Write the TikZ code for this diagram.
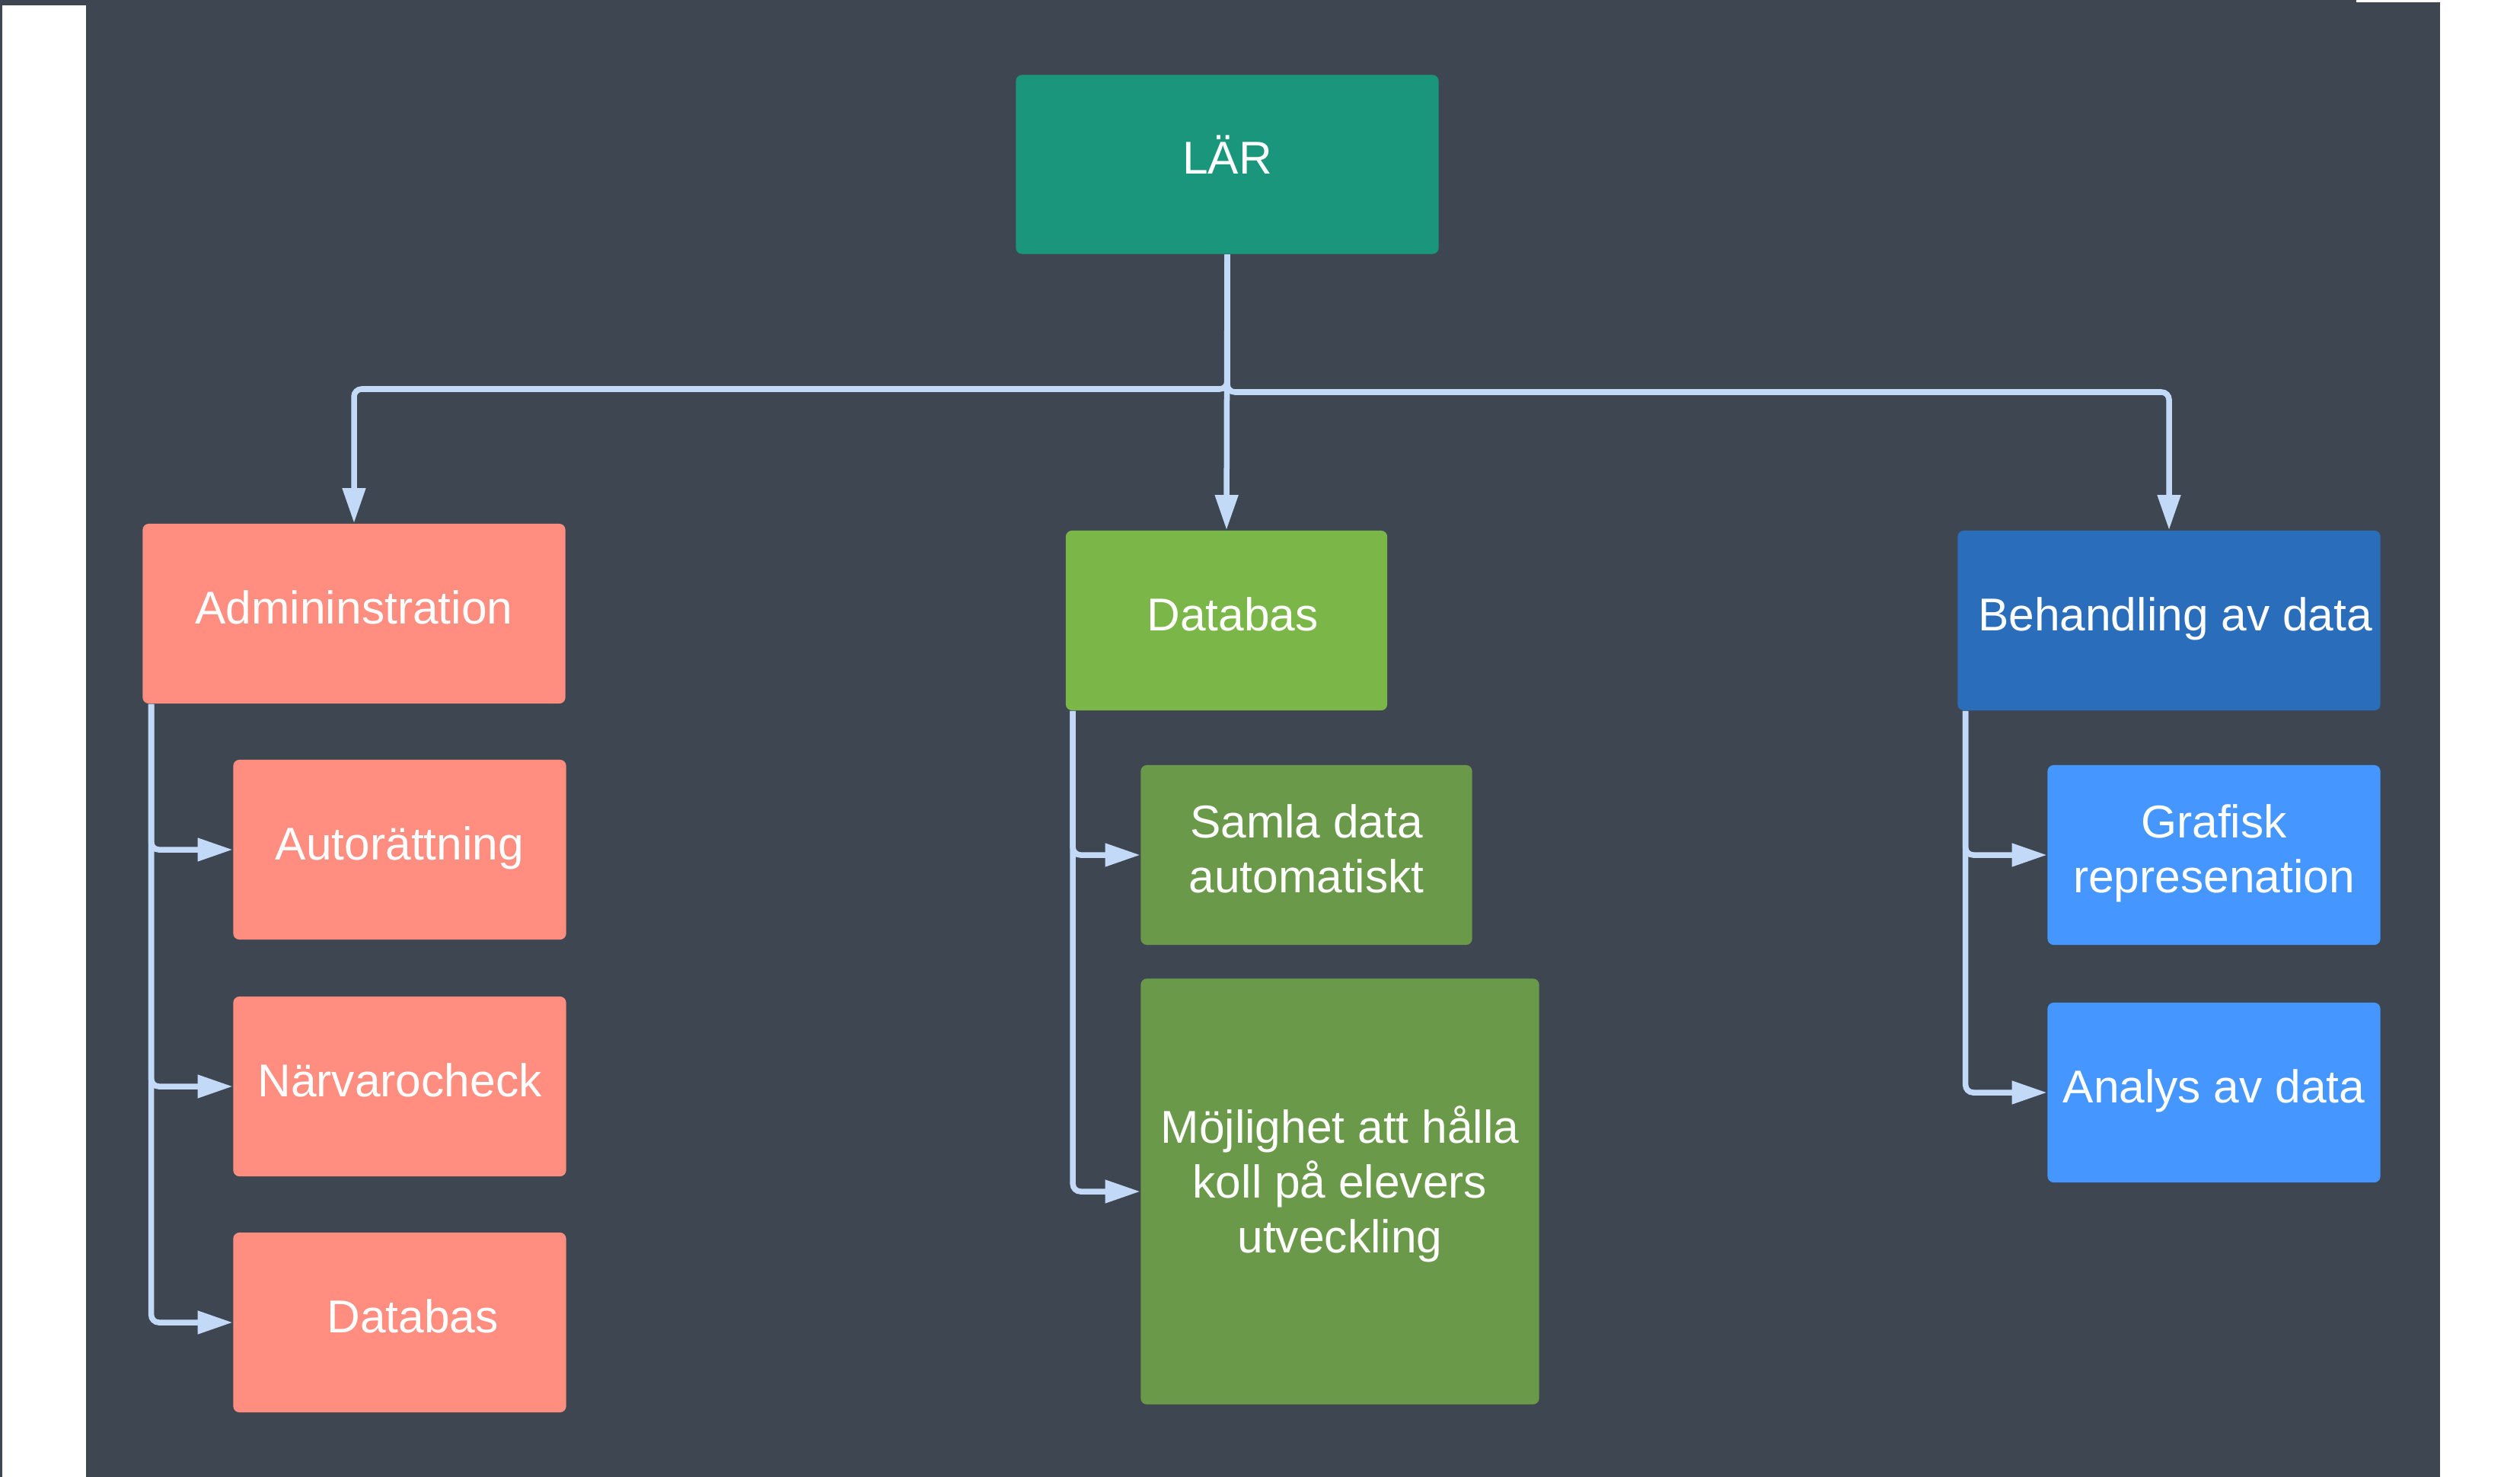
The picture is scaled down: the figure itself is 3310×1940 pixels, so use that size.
\documentclass[tikz,border=0pt]{standalone}
\usepackage{fontspec}
\setmainfont{Liberation Sans}
\usetikzlibrary{arrows.meta}

\definecolor{bgdark}{HTML}{3E4751}
\definecolor{larteal}{HTML}{1A967C}
\definecolor{salmon}{HTML}{FF8E80}
\definecolor{limegreen}{HTML}{7AB648}
\definecolor{olivegreen}{HTML}{6A994A}
\definecolor{darkblue}{HTML}{2A6EBB}
\definecolor{skyblue}{HTML}{4597FF}
\definecolor{linkblue}{HTML}{C2D9F7}

\tikzset{
  box/.style={fill=#1, rounded corners=0.08cm, text=white, align=center,
    inner sep=0pt, font=\fontsize{17.2}{20.5}\selectfont,
    execute at end node={\rule[-0.16cm]{0pt}{0.16cm}}},
  wide/.style={minimum width=5.55cm, minimum height=2.36cm},
  sub/.style={minimum width=4.37cm, minimum height=2.36cm},
  conn/.style={draw=linkblue, line width=0.075cm, rounded corners=0.1cm,
    -{Triangle[length=0.46cm,width=0.29cm]}},
}

\begin{document}
\begin{tikzpicture}[x=0.01cm, y=-0.01cm]
  % canvas
  \fill[bgdark] (0,0) rectangle (3310,1940);
  \fill[white] (3,7) rectangle (113,1940);
  \fill[white] (3205,0) rectangle (3310,1940);
  \fill[white] (3095,0) rectangle (3205,3);

  % top
  \node[box=larteal, wide, minimum height=2.35cm] (lar) at (1612,216) {LÄR\rule[-0.25cm]{0pt}{0.25cm}};

  % left column
  \node[box=salmon, wide] (adm) at (465,806) {Admininstration};
  \node[box=salmon, sub] (aut) at (525,1116) {Autorättning};
  \node[box=salmon, sub] (narv) at (525,1427) {Närvarocheck};
  \node[box=salmon, sub] (dbr) at (525,1737) {\hspace*{0.34cm}Databas};

  % middle column
  \node[box=limegreen, minimum width=4.22cm, minimum height=2.36cm] (dbg) at (1611,815) {\hspace*{0.16cm}Databas};
  \node[box=olivegreen, minimum width=4.35cm, minimum height=2.36cm] (samla) at (1716,1123) {Samla data\\automatiskt};
  \node[box=olivegreen, minimum width=5.23cm, minimum height=5.59cm] (moj) at (1760,1565)
    {Möjlighet att hålla\\koll på elevers\\utveckling\rule[-0.32cm]{0pt}{0.32cm}};

  % right column
  \node[box=darkblue, wide] (beh) at (2849,815) {\hspace*{0.16cm}Behandling av data};
  \node[box=skyblue, sub] (graf) at (2908,1123) {Grafisk\\represenation};
  \node[box=skyblue, sub] (anal) at (2908,1435) {Analys av data};

  \coordinate (forkl) at (1612,511);
  \coordinate (forkr) at (1612,515);

  \begin{scope}[conn]
    \draw (lar.south) -- (forkl) -| (adm.north);
    \draw (lar.south) -- (dbg.north);
    \draw (lar.south) -- (forkr) -| (beh.north);
    \draw ([xshift=0.12cm]adm.south west) |- (aut.west);
    \draw ([xshift=0.12cm]adm.south west) |- (narv.west);
    \draw ([xshift=0.12cm]adm.south west) |- (dbr.west);
    \draw ([xshift=0.1cm]dbg.south west) |- (samla.west);
    \draw ([xshift=0.1cm]dbg.south west) |- (moj.west);
    \draw ([xshift=0.11cm]beh.south west) |- (graf.west);
    \draw ([xshift=0.11cm]beh.south west) |- (anal.west);
  \end{scope}
\end{tikzpicture}
\end{document}
